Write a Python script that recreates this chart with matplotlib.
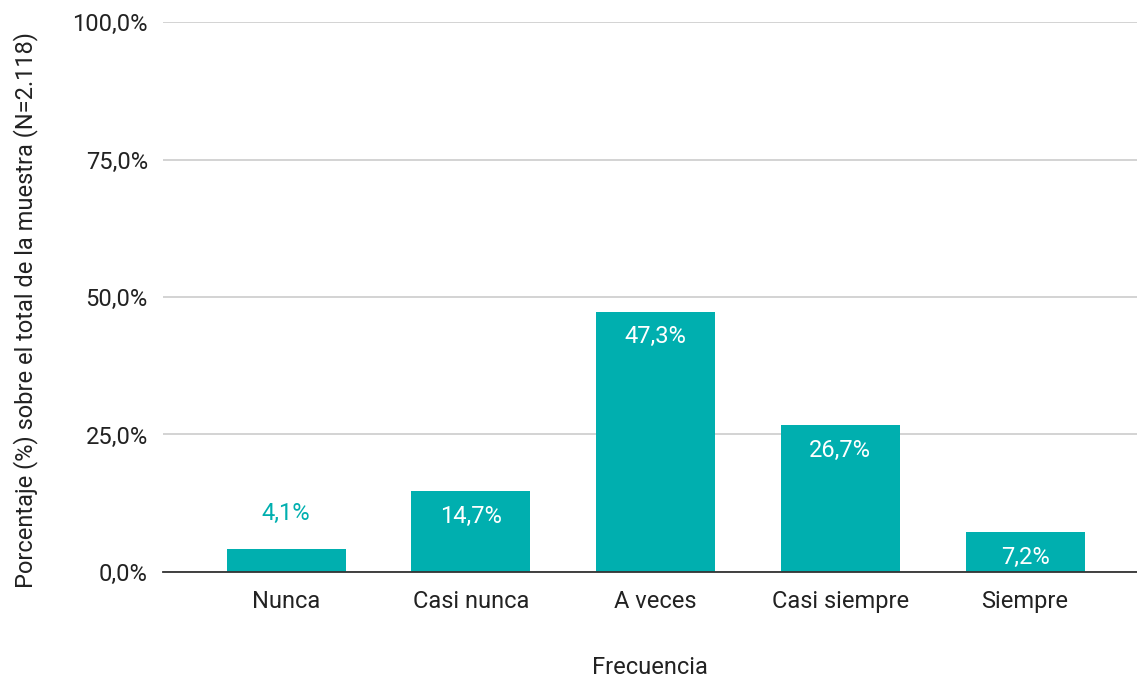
import matplotlib
matplotlib.use("Agg")
import matplotlib.pyplot as plt
import numpy as np

plt.rcParams["font.family"] = ["Roboto", "DejaVu Sans"]

categorias = ["Nunca", "Casi nunca", "A veces", "Casi siempre", "Siempre"]
porcentajes = [4.1, 14.7, 47.3, 26.7, 7.2]
yticks = [0, 25, 50, 75, 100]

teal = "#00AFAF"
fs = 17

fig = plt.figure(figsize=(11.37, 6.77), dpi=100)
ax = fig.add_axes([0.1434, 0.1551, 0.8566, 0.8124])

x = np.arange(len(categorias))
ax.bar(x, porcentajes, width=0.644, color=teal, zorder=3)

for xi, v in zip(x, porcentajes):
    txt = f"{v:.1f}%".replace(".", ",")
    if v < 6:
        ax.annotate(txt, (xi, v), xytext=(0, 26), textcoords="offset points",
                    ha="center", va="center", color=teal, fontsize=fs, zorder=4)
    else:
        ax.annotate(txt, (xi, v), xytext=(0, -18), textcoords="offset points",
                    ha="center", va="center", color="white", fontsize=fs, zorder=4)

ax.set_xlim(-0.666, 4.606)
ax.set_ylim(0, 100)
ax.set_yticks(yticks)
ax.set_yticklabels([f"{t:.1f}%".replace(".", ",") for t in yticks])
ax.set_xticks(x)
ax.set_xticklabels(categorias)
ax.tick_params(axis="both", length=0, labelsize=fs, colors="#222222")
ax.tick_params(axis="y", pad=11)
ax.tick_params(axis="x", pad=13)

ax.grid(axis="y", color="#cccccc", linewidth=1.2, zorder=0)
for s in ["top", "right", "left"]:
    ax.spines[s].set_visible(False)
ax.spines["bottom"].set_color("#333333")
ax.spines["bottom"].set_linewidth(1.3)
ax.spines["bottom"].set_zorder(5)

ax.set_xlabel("Frecuencia", fontsize=fs, labelpad=31, color="#222222")
ax.set_ylabel("Porcentaje (%) sobre el total de la muestra (N=2.118)", fontsize=fs,
              color="#222222")
ax.yaxis.set_label_coords(-0.128, 0.476)

fig.savefig("out.png", dpi=100)
